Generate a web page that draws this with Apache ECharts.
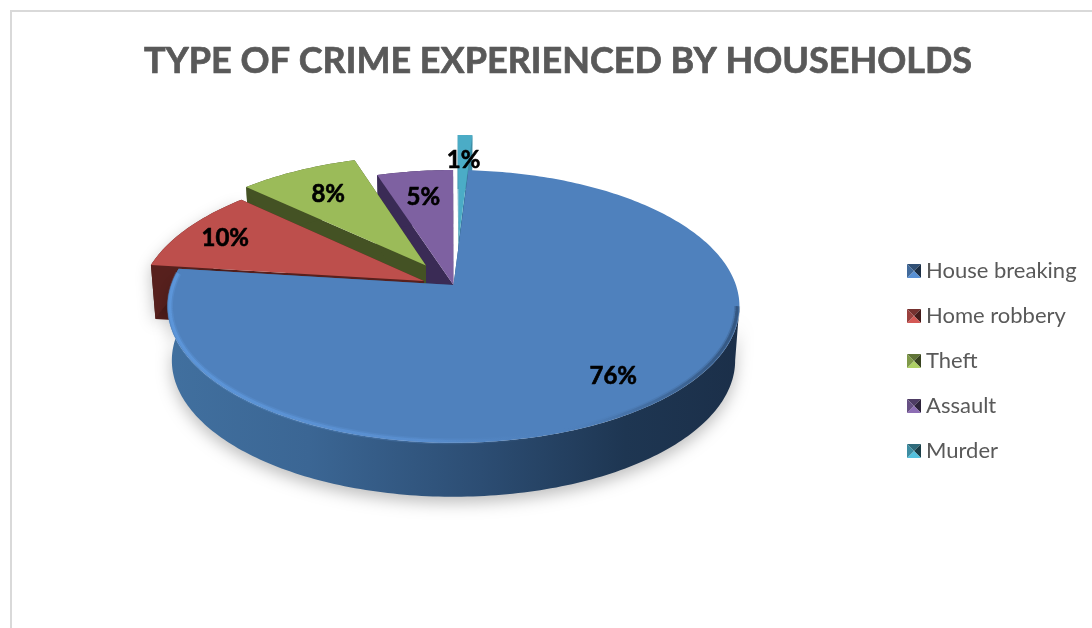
<!DOCTYPE html>
<html>
<head>
<meta charset="utf-8">
<style>html,body{margin:0;padding:0;background:#fff}#chart{width:1092px;height:628px}</style>
<script src="https://cdn.jsdelivr.net/npm/echarts@6/dist/echarts.min.js"></script>
</head>
<body>
<div id="chart"></div>
<script>
// Crime types and their share of households, in percent
const categories = ['House breaking', 'Home robbery', 'Theft', 'Assault', 'Murder'];
const shares = [76, 10, 8, 5, 1];
const titleText = 'TYPE OF CRIME EXPERIENCED BY HOUSEHOLDS';

// Slice colours: top face, side face
const topColors = ['#4f81bd', '#bd4f4c', '#9bbb59', '#7e61a1', '#4bacc6'];
const sideColors = ['#2e5178', '#57201d', '#445224', '#3a2b55', '#3c8ea6'];

// Perspective disc: unit circle projected on the page, tilted back
const firstAngle = 3.5;
const disc = { x: 453.5, y: 285, rx: 282.4, ry: 133, k: 0.157, depth: 54, taper: 0.985 };
// Angle where the near rim of the disc meets its right silhouette
const silhouetteAngle = 99;
// How far each slice is pulled out of the pie, in disc units
const explode = [[0, 0], [-0.105, 0.03], [-0.1, 0.15], [0, 0], [0.02, 0.37]];
// Label distance from the slice tip along its bisector, in disc units
const labelRadius = [0.8, 0.83, 0.74, 0.756, 0.74];
// Stacking from the back of the pie to the front
const depthOrder = [6, 5, 4, 3, 2];

function project(u, v) {
  const w = 1 + disc.k * v;
  return [disc.x + disc.rx * u / w, disc.y - disc.ry * v / w];
}
function drop(p) {
  return [disc.x + (p[0] - disc.x) * disc.taper, p[1] + disc.depth];
}
function sliceRange(i) {
  const total = shares.reduce((a, b) => a + b, 0);
  const before = shares.slice(0, i).reduce((a, b) => a + b, 0);
  return [firstAngle + before / total * 360, firstAngle + (before + shares[i]) / total * 360];
}
function arcPoints(i, from, to, scale) {
  const pts = [];
  const r = scale || 1;
  const n = Math.max(2, Math.ceil(Math.abs(to - from)));
  for (let s = 0; s <= n; s++) {
    const a = (from + (to - from) * s / n) * Math.PI / 180;
    pts.push(project(Math.sin(a) * r + explode[i][0], Math.cos(a) * r + explode[i][1]));
  }
  return pts;
}
function bandBetween(pts) {
  return pts.concat(pts.map(drop).reverse());
}

const blueSideFill = new echarts.graphic.LinearGradient(165, 0, 740, 0, [
  { offset: 0, color: '#41709f' }, { offset: 0.25, color: '#3b6694' },
  { offset: 0.55, color: '#2c4d73' }, { offset: 0.8, color: '#1e3652' }, { offset: 1, color: '#1b2f49' }
], true);
// Soft bevel on the near edge: light on the left, fading out, dark on the right
const rimStroke = new echarts.graphic.LinearGradient(165, 0, 740, 0, [
  { offset: 0, color: 'rgba(98,159,230,0.95)' }, { offset: 0.45, color: 'rgba(95,150,218,0.8)' },
  { offset: 0.68, color: 'rgba(79,129,189,0)' }, { offset: 0.8, color: 'rgba(40,66,100,0.25)' },
  { offset: 1, color: 'rgba(30,52,80,0.75)' }
], true);

function renderSlice(i) {
  return function () {
    const range = sliceRange(i);
    const arc = arcPoints(i, range[0], range[1]);
    const tip = project(explode[i][0], explode[i][1]);
    const side = i === 0 ? blueSideFill : sideColors[i];
    const children = [];
    const poly = (points, fill, extra, z2) => children.push({
      type: 'polygon', z2: z2, shape: { points: points }, style: Object.assign({ fill: fill }, extra || {})
    });
    poly(bandBetween([tip, arc[0]]), side, null, 1);
    poly(bandBetween([tip, arc[arc.length - 1]]), side, null, 1);
    const front = i === 0 ? arcPoints(i, silhouetteAngle, range[1]) : arc;
    poly(bandBetween(front), side, i < 2 ? {
      shadowBlur: 16, shadowOffsetY: 6, shadowColor: 'rgba(0,0,0,0.26)'
    } : null, 2);
    poly([tip].concat(arc), topColors[i], null, 3);
    if (i === 0) {
      const rim = arcPoints(0, silhouetteAngle, range[1] - 2, 0.992);
      children.push({ type: 'polyline', z2: 4, shape: { points: rim },
        style: { fill: null, stroke: rimStroke, lineWidth: 6, opacity: 0.28 } });
      children.push({ type: 'polyline', z2: 5, shape: { points: rim },
        style: { fill: null, stroke: rimStroke, lineWidth: 3, opacity: 0.6 } });
    }
    return { type: 'group', children: children };
  };
}

// Value labels sit above every slice, so they get a series of their own
function renderLabel(params, api) {
  const i = params.dataIndex;
  const range = sliceRange(i);
  const mid = (range[0] + range[1]) / 2 * Math.PI / 180;
  const r = labelRadius[i];
  const p = project(Math.sin(mid) * r + explode[i][0], Math.cos(mid) * r + explode[i][1]);
  return {
    type: 'text', x: p[0], y: p[1] + 1,
    style: { text: api.value(0) + '%', align: 'center', verticalAlign: 'middle',
      fill: '#000', stroke: '#000', lineWidth: 0.6, font: 'bold 24px Lato, Carlito, sans-serif' }
  };
}

// Bevelled legend key, four shaded triangles around a point
function bevelIcon(hex) {
  const shade = f => '#' + [1, 3, 5].map(n => {
    const c = Math.round(Math.min(255, parseInt(hex.substr(n, 2), 16) * f));
    return (c < 16 ? '0' : '') + c.toString(16);
  }).join('');
  const svg = '<svg xmlns="http://www.w3.org/2000/svg" width="14" height="14">' +
    '<polygon points="0,0 14,0 7,7" fill="' + shade(0.62) + '"/>' +
    '<polygon points="14,0 14,14 7,7" fill="' + shade(0.36) + '"/>' +
    '<polygon points="0,14 14,14 7,7" fill="' + shade(1.12) + '"/>' +
    '<polygon points="0,0 0,14 7,7" fill="' + shade(0.82) + '"/></svg>';
  return 'image://data:image/svg+xml;base64,' + btoa(svg);
}

const sliceSeries = categories.map((name, i) => ({
  name: name, type: 'custom', coordinateSystem: 'none', z: depthOrder[i],
  itemStyle: { color: topColors[i] }, data: [[shares[i]]], renderItem: renderSlice(i), silent: true
}));

const chart = echarts.init(document.getElementById('chart'), null, { renderer: 'canvas' });
chart.setOption({
  animation: false,
  backgroundColor: '#fff',
  title: {
    text: titleText, left: 553, top: 38, textAlign: 'center',
    textStyle: { fontFamily: 'Lato, Carlito, sans-serif', fontSize: 36, fontWeight: 'bold', color: '#595959',
      textBorderColor: '#595959', textBorderWidth: 0.7 }
  },
  legend: {
    orient: 'vertical', left: 902, top: 253, itemWidth: 14, itemHeight: 14, itemGap: 19, selectedMode: false,
    data: categories.map((name, i) => ({ name: name, icon: bevelIcon(topColors[i]) })),
    textStyle: { fontFamily: 'Lato, Carlito, sans-serif', fontSize: 22, color: '#595959', lineHeight: 26 }
  },
  graphic: [{
    type: 'rect', silent: true, z: -1,
    shape: { x: 11, y: 11, width: 1300, height: 900 },
    style: { fill: 'none', stroke: '#d9d9d9', lineWidth: 2 }
  }],
  series: sliceSeries.concat([{
    name: 'labels', type: 'custom', coordinateSystem: 'none', z: 10, silent: true,
    data: shares.map(v => [v]), renderItem: renderLabel
  }])
});
</script>
</body>
</html>
